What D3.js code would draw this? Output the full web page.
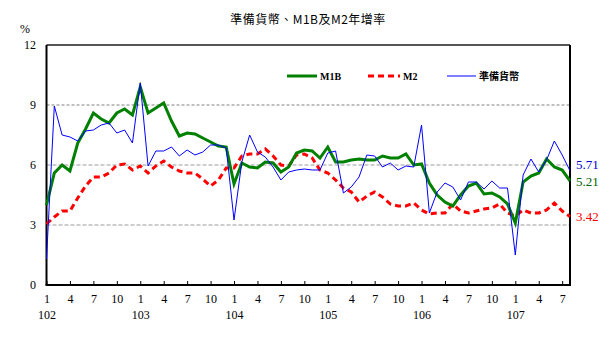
<!DOCTYPE html>
<html><head><meta charset="utf-8">
<script src="https://cdn.jsdelivr.net/npm/d3@7/dist/d3.min.js"></script>
<style>
body{margin:0;background:#fff;}
text{font-family:"Liberation Serif","DejaVu Serif",serif;}
.cjk{font-family:"Noto Sans CJK TC","Noto Sans CJK SC",sans-serif;}
</style></head><body>
<svg id="c" width="614" height="356"></svg>
<script>
const years = ["102","103","104","105","106","107"];
const monthTicks = [1,4,7,10];
const yTicks = [0,3,6,9,12];
const seriesNames = ["M1B","M2","準備貨幣"];
const m1b = [4.0,5.6,6.0,5.7,7.1,7.8,8.6,8.3,8.1,8.6,8.8,8.5,
             9.9,8.6,8.85,9.1,8.2,7.45,7.6,7.55,7.35,7.15,6.95,6.9,
             5.05,6.1,5.9,5.85,6.15,6.1,5.65,5.9,6.6,6.75,6.7,6.35,
             6.9,6.15,6.15,6.25,6.3,6.25,6.25,6.45,6.35,6.35,6.55,6.0,
             6.05,5.1,4.5,4.15,3.95,4.5,4.95,5.1,4.55,4.6,4.4,4.05,
             3.1,5.15,5.45,5.6,6.3,5.9,5.75,5.21];
const m2 = [3.05,3.4,3.7,3.7,4.35,4.95,5.4,5.4,5.6,6.0,6.05,5.75,
            5.95,5.6,5.95,6.2,5.9,5.7,5.6,5.6,5.3,4.95,5.25,5.85,
            5.85,6.45,6.55,6.55,6.8,6.45,6.0,5.95,6.5,6.55,6.35,5.75,
            5.6,5.25,4.85,4.65,4.15,4.45,4.65,4.4,4.05,3.95,3.95,4.1,
            3.75,3.55,3.6,3.6,4.05,3.7,3.6,3.7,3.8,3.85,4.05,3.6,
            3.45,3.75,3.6,3.6,3.75,4.1,3.7,3.42];
const reserve = [1.3,8.95,7.5,7.4,7.2,7.7,7.75,8.0,8.1,7.6,7.75,7.1,
                 10.1,5.95,6.7,6.7,6.9,6.45,6.75,6.5,6.65,7.0,7.0,6.85,
                 3.25,6.15,7.5,6.65,6.4,5.9,5.25,5.65,5.75,5.8,5.75,5.75,
                 6.6,6.7,4.6,4.9,5.4,6.5,6.45,5.9,6.1,5.75,5.95,5.9,
                 8.0,3.6,4.65,5.1,4.9,4.25,5.15,5.15,4.8,5.2,4.85,4.85,
                 1.5,5.5,6.3,5.65,6.25,7.2,6.5,5.71];

const svg = d3.select("#c");
const L = 46.5, R = 570, T = 45, B = 285;
const n = m1b.length;
const x = d3.scaleLinear().domain([0, n-1]).range([L, R]);
const y = d3.scaleLinear().domain([0, 12]).range([B, T]);

// title
svg.append("text").attr("class","cjk").attr("x",308).attr("y",24).attr("text-anchor","middle")
  .attr("font-size",12).attr("letter-spacing","0.5").text("準備貨幣、M1B及M2年增率");
svg.append("text").attr("x",20).attr("y",33).attr("font-size",12).text("%");

// grid
[3,6].forEach(v=>{
  svg.append("line").attr("x1",L).attr("x2",R).attr("y1",y(v)).attr("y2",y(v))
    .attr("stroke","#bdbdbd").attr("stroke-width",1.6).attr("stroke-dasharray","4,2");
});
svg.append("line").attr("x1",L).attr("x2",R).attr("y1",y(9)).attr("y2",y(9))
  .attr("stroke","#808080").attr("stroke-width",1).attr("stroke-dasharray","3,2");

// y labels
svg.append("g").selectAll("text").data(yTicks).join("text")
  .attr("x",36).attr("y",d=>y(d)).attr("dy","0.35em").attr("text-anchor","end")
  .attr("font-size",12).text(d=>d);

// x axis month ticks
const tickVals = d3.range(0, n, 3);
const xAxis = d3.axisBottom(x).tickValues(tickVals)
  .tickFormat(d=>(d%12)+1).tickSizeInner(-4).tickSizeOuter(0).tickPadding(9);
const gx = svg.append("g").attr("transform",`translate(0,${B})`).call(xAxis);
gx.select(".domain").remove();
gx.selectAll("text").attr("font-size",12).attr("font-family","Liberation Serif");
gx.selectAll("line").attr("stroke","#000");

const yearAxis = d3.axisBottom(x).tickValues(d3.range(0, n, 12))
  .tickFormat(d=>years[d/12]).tickSize(0).tickPadding(25);
const gy = svg.append("g").attr("transform",`translate(0,${B})`).call(yearAxis);
gy.select(".domain").remove();
gy.selectAll("text").attr("font-size",12).attr("font-family","Liberation Serif");

// frame
svg.append("line").attr("x1",L).attr("x2",R).attr("y1",T).attr("y2",T).attr("stroke","#555").attr("stroke-width",2);
svg.append("line").attr("x1",L).attr("x2",L).attr("y1",T).attr("y2",B).attr("stroke","#000").attr("stroke-width",2);
svg.append("line").attr("x1",R).attr("x2",R).attr("y1",T).attr("y2",B).attr("stroke","#000").attr("stroke-width",2);
svg.append("line").attr("x1",L-1).attr("x2",R+1).attr("y1",B).attr("y2",B).attr("stroke","#000").attr("stroke-width",2);

// lines
const line = d3.line().x((d,i)=>x(i)).y(d=>y(d));
svg.append("path").datum(m2).attr("d",line).attr("fill","none")
  .attr("stroke","#ff0000").attr("stroke-width",3).attr("stroke-dasharray","6,4");
svg.append("path").datum(m1b).attr("d",line).attr("fill","none")
  .attr("stroke","#008000").attr("stroke-width",3);
svg.append("path").datum(reserve).attr("d",line).attr("fill","none")
  .attr("stroke","#0000ff").attr("stroke-width",1);

// end labels
const endLabels = [
  {v: reserve[n-1], c:"#0000cc", yy: 164},
  {v: m1b[n-1], c:"#006400", yy: 181},
  {v: m2[n-1], c:"#ff0000", yy: 216}
];
svg.append("g").selectAll("text").data(endLabels).join("text")
  .attr("x",576).attr("y",d=>d.yy).attr("dy","0.35em").attr("font-size",13)
  .attr("fill",d=>d.c).text(d=>d.v.toFixed(2));

// legend
const leg = [
  {name:seriesNames[0], c:"#008000", w:3, dash:null, x1:287, x2:317},
  {name:seriesNames[1], c:"#ff0000", w:3, dash:"6,4", x1:368, x2:400},
  {name:seriesNames[2], c:"#0000ff", w:1, dash:null, x1:447, x2:476}
];
const lg = svg.append("g");
leg.forEach(d=>{
  lg.append("line").attr("x1",d.x1).attr("x2",d.x2).attr("y1",76).attr("y2",76)
    .attr("stroke",d.c).attr("stroke-width",d.w).attr("stroke-dasharray",d.dash);
  lg.append("text").attr("class", d.name==="準備貨幣"?"cjk":null)
    .attr("x",d.x2+3).attr("y",76).attr("dy","0.35em").attr("font-size",10)
    .attr("font-weight","bold").text(d.name);
});
</script></body></html>
